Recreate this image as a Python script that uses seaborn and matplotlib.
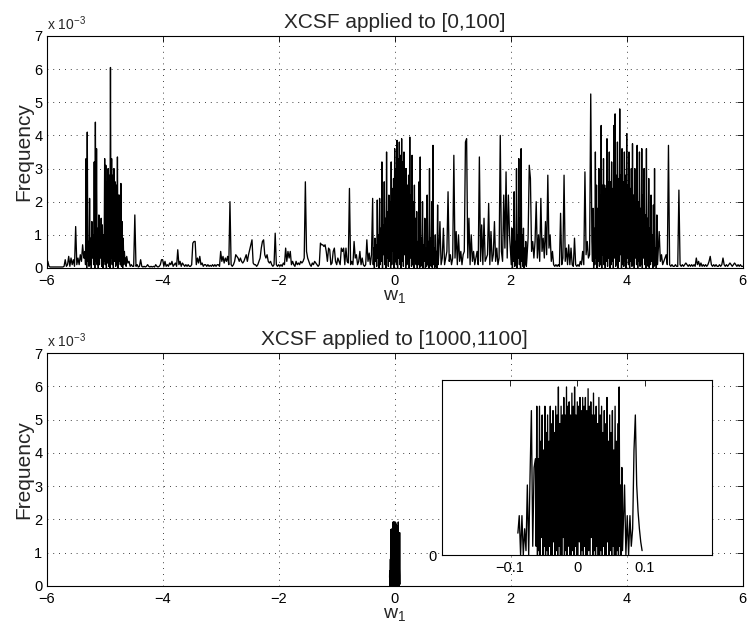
import numpy as np
import pandas as pd
import matplotlib
matplotlib.use("Agg")
import matplotlib.pyplot as plt
import seaborn as sns

sns.set_style("white")
plt.rcParams['font.family'] = ['Liberation Sans', 'DejaVu Sans']
plt.rcParams['mathtext.fontset'] = 'custom'
plt.rcParams['mathtext.rm'] = 'Liberation Sans'
plt.rcParams['mathtext.it'] = 'Liberation Sans:italic'
plt.rcParams['axes.unicode_minus'] = True

# ---------------- data (frequency values in units of 1e-3) ----------------
titles = ["XCSF applied to [0,100]", "XCSF applied to [1000,1100]"]
x_ticks = [-6, -4, -2, 0, 2, 4, 6]
y_tick_labels = ["0", "1", "2", "3", "4", "5", "6", "7"]
inset_ticks = [-0.1, 0.0, 0.1]
inset_tick_labels = ["\u22120.1", "0", "0.1"]

# top panel: w1 from -6 to 6 in steps of 0.02
w1_top = np.round(np.linspace(-6, 6, 601), 2)
freq_top_a = [0.25, 0.2, 0.05, 0.03, 0.03, 0.03, 0.03, 0.03, 0.03, 0.03,
              0.03, 0.03, 0.03, 0.03, 0.03, 0.05, 0.25, 0.05, 0.1, 0.35,
              0.05, 0.3, 0.1, 0.25, 0.05, 1.25, 0.1, 0.3, 0.1, 0.4,
              0.2, 0.7, 0.3, 0.5, 3.3, 4.1, 0.8, 2.1, 0.9, 1.4,
              1.0, 3.2, 4.4, 3.6, 1.2, 1.6, 1.0, 1.5, 1.3, 1.0,
              3.3, 3.1, 2.6, 3.0, 2.8, 6.05, 3.3, 2.8, 3.0, 2.6,
              2.5, 3.35, 2.2, 2.2, 2.55, 1.4, 0.9, 0.5, 0.3, 0.35,
              0.15, 0.2, 0.05, 0.1, 0.05, 0.05, 1.6, 0.05, 0.1, 0.03,
              0.05, 0.25, 0.05, 0.03, 0.05, 0.03, 0.05, 0.1, 0.05, 0.03,
              0.05, 0.03, 0.05, 0.03, 0.1, 0.05, 0.03, 0.05, 0.1, 0.25]
freq_top_b = [0.25, 0.05, 0.2, 0.05, 0.1, 0.05, 0.15, 0.1, 0.2, 0.05,
              0.1, 0.15, 0.05, 0.55, 0.1, 0.2, 0.05, 0.15, 0.1, 0.05,
              0.1, 0.05, 0.1, 0.05, 0.05, 0.1, 0.75, 0.8, 0.8, 0.1,
              0.3, 0.15, 0.35, 0.1, 0.15, 0.05, 0.1, 0.1, 0.05, 0.1,
              0.05, 0.08, 0.05, 0.1, 0.05, 0.1, 0.05, 0.1, 0.1, 0.05,
              0.5, 0.2, 0.35, 0.15, 0.3, 0.2, 0.35, 0.1, 2.0, 0.1,
              0.05, 0.1, 0.2, 0.4, 0.35, 0.3, 0.2, 0.3, 0.2, 0.15,
              0.2, 0.3, 0.4, 0.2, 0.4, 0.55, 0.7, 0.85, 0.15, 0.1,
              0.1, 0.05, 0.1, 0.2, 0.3, 0.6, 0.8, 0.85, 0.4, 0.3,
              0.4, 0.2, 0.15, 0.2, 0.1, 0.05, 0.1, 1.05, 0.1, 0.05]
freq_top_c = [0.1, 0.05, 0.1, 0.05, 0.15, 0.1, 0.6, 0.2, 0.5, 0.3,
              0.5, 0.1, 0.2, 0.1, 0.05, 0.2, 0.1, 0.15, 0.1, 0.2,
              0.15, 0.2, 0.3, 2.6, 0.5, 0.3, 0.2, 0.1, 0.05, 0.15,
              0.1, 0.2, 0.15, 0.1, 0.05, 0.1, 0.75, 0.7, 0.7, 0.65,
              0.7, 0.5, 0.2, 0.6, 0.55, 0.1, 0.15, 0.5, 0.6, 0.2,
              0.1, 0.3, 0.2, 0.1, 0.6, 0.5, 0.6, 0.1, 0.6, 0.2,
              0.15, 2.4, 0.1, 0.2, 0.1, 0.8, 0.3, 0.4, 0.1, 0.2,
              0.5, 0.1, 0.3, 0.1, 0.05, 0.1, 0.85, 0.2, 0.45, 0.1,
              0.4, 2.1, 0.6, 0.9, 0.7, 2.05, 1.0, 2.1, 1.2, 3.2,
              1.3, 2.6, 1.5, 3.5, 1.7, 2.2, 2.0, 3.2, 2.4, 2.7]
freq_top_d = [3.6, 3.0, 3.85, 3.3, 3.8, 3.4, 3.9, 3.2, 3.5, 3.0,
              3.0, 2.5, 2.8, 3.95, 2.2, 3.4, 2.0, 2.5, 1.5, 1.7,
              0.8, 2.6, 3.35, 0.9, 2.0, 0.7, 1.5, 0.6, 2.2, 0.8,
              3.0, 0.9, 2.0, 3.7, 0.6, 1.0, 0.5, 1.9, 0.4, 1.4,
              0.1, 0.3, 1.2, 0.1, 0.3, 0.5, 2.3, 0.2, 0.4, 0.1,
              0.3, 3.4, 0.3, 1.1, 0.1, 1.0, 0.2, 0.5, 0.1, 0.4,
              0.5, 3.8, 3.9, 0.3, 1.5, 0.1, 1.0, 0.2, 0.5, 0.1,
              0.3, 0.5, 0.1, 3.35, 0.2, 1.3, 0.1, 1.5, 0.2, 0.3,
              0.4, 1.95, 0.1, 1.1, 0.2, 0.4, 1.4, 0.2, 0.6, 0.1,
              0.3, 4.0, 0.5, 0.2, 2.2, 0.6, 2.9, 0.3, 2.2, 1.0]
freq_top_e = [0.4, 1.2, 0.6, 2.3, 0.8, 3.0, 1.0, 3.3, 1.5, 3.6,
              1.0, 1.2, 0.6, 0.8, 0.3, 0.9, 3.1, 2.7, 0.5, 0.8,
              0.3, 0.8, 2.0, 0.3, 1.0, 0.2, 2.1, 0.5, 0.9, 0.3,
              1.4, 0.4, 2.8, 0.6, 1.0, 0.2, 0.5, 0.1, 0.05, 0.1,
              0.05, 0.1, 0.05, 1.65, 0.1, 0.3, 2.8, 0.2, 0.6, 0.1,
              0.7, 0.1, 0.6, 0.1, 0.05, 0.9, 0.1, 0.05, 0.1, 0.05,
              0.2, 0.1, 0.5, 0.1, 2.9, 0.4, 0.8, 0.3, 0.4, 5.25,
              0.8, 1.8, 1.2, 3.5, 2.5, 1.8, 3.0, 2.2, 4.3, 2.5,
              3.3, 2.5, 2.4, 3.9, 2.6, 3.5, 2.6, 3.2, 2.4, 4.3,
              4.65, 2.8, 3.8, 2.7, 4.8, 2.8, 3.6, 2.6, 3.5, 2.8]
freq_top_f = [4.05, 2.5, 3.5, 2.4, 3.0, 3.75, 2.2, 3.0, 2.0, 3.7,
              2.0, 3.5, 1.8, 3.6, 2.2, 3.0, 1.6, 3.6, 1.5, 2.7,
              1.2, 2.2, 1.0, 1.9, 3.0, 0.6, 1.6, 0.4, 1.1, 0.2,
              0.4, 0.1, 0.2, 0.3, 0.4, 0.1, 3.7, 0.1, 0.05, 0.1,
              0.05, 0.05, 0.1, 0.05, 0.05, 2.35, 0.1, 0.05, 0.1, 0.05,
              0.1, 0.15, 0.1, 0.05, 0.1, 0.05, 0.1, 0.05, 0.1, 0.05,
              0.3, 0.1, 0.2, 0.05, 0.15, 0.05, 0.1, 0.05, 0.1, 0.05,
              0.1, 0.2, 0.35, 0.1, 0.05, 0.1, 0.05, 0.1, 0.05, 0.05,
              0.1, 0.05, 0.1, 0.3, 0.1, 0.05, 0.1, 0.05, 0.1, 0.15,
              0.1, 0.05, 0.1, 0.15, 0.1, 0.05, 0.1, 0.05, 0.1, 0.05,
              0.05]

# low-frequency values between the grid points inside the dense clusters
w1_valley_a = np.round(np.linspace(-5.35, -4.63, 37), 2)
freq_valley_a = [0.3, 0.1, 0.0, 0.2, 0.05, 0.1, 0.0, 0.3, 0.1, 0.0,
                 0.2, 0.1, 0.0, 0.1, 0.3, 0.05, 0.0, 0.2, 0.1, 0.0,
                 0.15, 0.05, 0.0, 0.3, 0.1, 0.0, 0.2, 0.05, 0.1, 0.0,
                 0.2, 0.1, 0.05, 0.0, 0.1, 0.2, 0.05]
w1_valley_b = np.round(np.linspace(-0.37, 0.75, 57), 2)
freq_valley_b = [0.1, 0.0, 0.2, 0.05, 0.3, 0.0, 0.1, 0.2, 0.0, 0.4,
                 0.1, 0.0, 0.3, 0.05, 0.2, 0.0, 0.1, 0.5, 0.0, 0.2,
                 0.1, 0.0, 0.3, 0.1, 0.0, 0.2, 0.05, 0.4, 0.0, 0.1,
                 0.2, 0.0, 0.3, 0.05, 0.1, 0.0, 0.2, 0.1, 0.0, 0.1,
                 0.0, 0.05, 0.1, 0.0, 0.2, 0.0, 0.05, 0.1, 0.0, 0.1,
                 0.05, 0.0, 0.1, 0.0, 0.05, 0.0, 0.1]
w1_valley_d = np.round(np.linspace(2.01, 2.27, 14), 2)
freq_valley_d = [0.1, 0.0, 0.2, 0.05, 0.1, 0.0, 0.3, 0.1, 0.0, 0.2,
                 0.05, 0.0, 0.1, 0.05]
w1_valley_c = np.round(np.linspace(3.41, 4.53, 57), 2)
freq_valley_c = [0.2, 0.0, 0.1, 0.3, 0.0, 0.2, 0.05, 0.1, 0.0, 0.4,
                 0.1, 0.0, 0.2, 0.05, 0.3, 0.0, 0.1, 0.2, 0.0, 0.3,
                 0.05, 0.1, 0.0, 0.2, 0.4, 0.0, 0.1, 0.05, 0.2, 0.0,
                 0.3, 0.1, 0.0, 0.2, 0.05, 0.1, 0.0, 0.3, 0.1, 0.0,
                 0.2, 0.05, 0.1, 0.0, 0.3, 0.1, 0.0, 0.2, 0.05, 0.0,
                 0.1, 0.2, 0.0, 0.05, 0.1, 0.0, 0.1]

# bottom panel: w1 from -0.088 to 0.096 in steps of 0.002
w1_bottom = np.round(np.linspace(-0.088, 0.096, 93), 3)
freq_bottom = [0.25, 0.45, 0.0, 0.45, 0.0, 0.3, 0.05, 0.8, 0.0, 0.9,
               1.65, 0.1, 1.0, 1.1, 1.7, 1.1, 1.7, 1.3, 1.6, 1.2,
               1.7, 1.4, 1.6, 1.3, 1.7, 1.5, 1.65, 1.4, 1.7, 1.6,
               1.92, 1.5, 1.7, 1.6, 1.8, 1.6, 1.92, 1.7, 1.75, 1.6,
               1.85, 1.7, 1.92, 1.6, 1.75, 1.7, 1.8, 1.65, 1.8, 1.7,
               1.8, 1.65, 1.9, 1.7, 1.75, 1.6, 1.85, 1.6, 1.7, 1.5,
               1.8, 1.6, 1.7, 1.4, 1.65, 1.5, 1.8, 1.3, 1.6, 1.4,
               1.65, 1.2, 1.7, 1.3, 1.5, 1.92, 0.8, 1.0, 0.3, 0.8,
               0.0, 0.45, 0.0, 0.45, 0.1, 0.3, 1.2, 1.6, 0.8, 0.5,
               0.3, 0.15, 0.05]
w1_bottom_valley = np.round(np.linspace(-0.061, 0.067, 65), 3)
freq_bottom_valley = [0.1, 0.0, 0.05, 0.0, 0.2, 0.0, 0.1, 0.0, 0.05, 0.0,
                      0.1, 0.0, 0.0, 0.15, 0.0, 0.05, 0.0, 0.1, 0.0, 0.0,
                      0.2, 0.0, 0.05, 0.0, 0.1, 0.0, 0.0, 0.05, 0.0, 0.1,
                      0.0, 0.0, 0.15, 0.0, 0.05, 0.0, 0.1, 0.0, 0.0, 0.05,
                      0.0, 0.2, 0.0, 0.05, 0.0, 0.1, 0.0, 0.0, 0.05, 0.0,
                      0.1, 0.0, 0.0, 0.15, 0.0, 0.05, 0.0, 0.1, 0.0, 0.0,
                      0.05, 0.0, 0.1, 0.0, 0.05]

freq_top = (freq_top_a + freq_top_b + freq_top_c +
            freq_top_d + freq_top_e + freq_top_f)
df_top = pd.DataFrame({
    "w1": np.concatenate([w1_top, w1_valley_a, w1_valley_b,
                          w1_valley_d, w1_valley_c]),
    "freq": np.array(freq_top + freq_valley_a + freq_valley_b +
                     freq_valley_d + freq_valley_c) * 1e-3,
}).sort_values("w1").reset_index(drop=True)
df_bot = pd.DataFrame({
    "w1": np.concatenate([w1_bottom, w1_bottom_valley]),
    "freq": np.array(freq_bottom + freq_bottom_valley) * 1e-3,
}).sort_values("w1").reset_index(drop=True)

# ---------------- figure ----------------
fig = plt.figure(figsize=(7.49, 6.37), dpi=100)
ax1 = fig.add_axes([0.0623, 0.5793, 0.9293, 0.3642])
ax2 = fig.add_axes([0.0623, 0.0805, 0.9293, 0.3649])
axin = fig.add_axes([0.5905, 0.1287, 0.3605, 0.2748])

line_kw = dict(x="w1", y="freq", color="black", linewidth=0.95,
               estimator=None, sort=False)
sns.lineplot(data=df_top, ax=ax1, **line_kw)
sns.lineplot(data=df_bot, ax=ax2, **line_kw)
sns.lineplot(data=df_bot, ax=axin, **line_kw)


def style_main(ax, title):
    ax.set_xlim(-6, 6)
    ax.set_ylim(0, 7e-3)
    ax.set_xticks(x_ticks)
    ax.set_xticklabels([f"{t}".replace("-", "\u2212") for t in x_ticks])
    ax.set_yticks(np.arange(8) * 1e-3)
    ax.set_yticklabels(y_tick_labels)
    ax.tick_params(direction="in", top=True, right=True, length=4,
                   width=0.6, labelsize=10.5, colors="black")
    ax.tick_params(axis="x", pad=4.5)
    ax.tick_params(axis="y", pad=3)
    ax.grid(True, linestyle=(0, (1, 6)), color="black", linewidth=0.6)
    for s in ax.spines.values():
        s.set_visible(True)
        s.set_color("black")
        s.set_linewidth(0.8)
    ax.set_xlabel("w$_1$", fontsize=14, labelpad=0)
    ax.set_ylabel("Frequency", fontsize=15, labelpad=1)
    ax.set_title(title, fontsize=15, pad=6)
    ax.text(0.0, 1.012, "x 10$^{-3}$", transform=ax.transAxes,
            fontsize=10, ha="left", va="bottom")


style_main(ax1, titles[0])
style_main(ax2, titles[1])

axin.set_facecolor("white")
axin.set_xlim(-0.2, 0.2)
axin.set_ylim(0, 2e-3)
axin.set_xticks(inset_ticks)
axin.set_xticklabels(inset_tick_labels)
axin.set_yticks([0])
axin.set_yticklabels(["0"])
axin.tick_params(direction="in", top=True, right=True, length=4,
                 width=0.6, labelsize=10.5, colors="black", pad=4)
axin.set_xlabel("")
axin.set_ylabel("")
for s in axin.spines.values():
    s.set_visible(True)
    s.set_color("black")
    s.set_linewidth(0.8)

fig.savefig("out.png", dpi=100, facecolor="white")
